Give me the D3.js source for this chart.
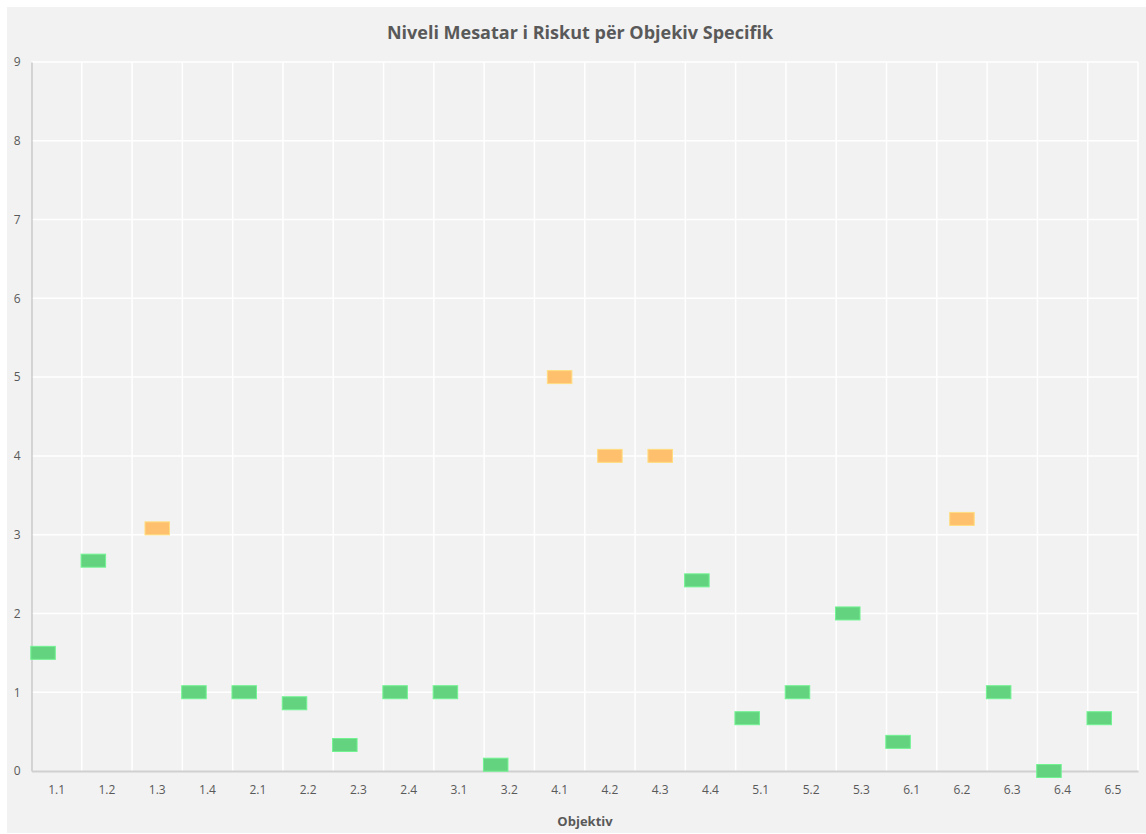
<!DOCTYPE html>
<html>
<head>
<meta charset="utf-8">
<script src="https://cdn.jsdelivr.net/npm/d3@7"></script>
<style>
  html, body { margin: 0; padding: 0; background: #ffffff; }
  svg { display: block; }
  text { font-family: "Open Sans", "Noto Sans", sans-serif; }
</style>
</head>
<body>
<svg id="chart" width="1146" height="834"></svg>
<script>
const categories = ["1.1","1.2","1.3","1.4","2.1","2.2","2.3","2.4","3.1","3.2","4.1","4.2","4.3","4.4","5.1","5.2","5.3","6.1","6.2","6.3","6.4","6.5"];
// risk level series (null = no value in that series)
const lowRisk =    [1.5, 2.67, null, 1, 1, 0.86, 0.33, 1, 1, 0.08, null, null, null, 2.42, 0.67, 1, 2, 0.37, null, 1, 0, 0.67];
const mediumRisk = [null, null, 3.08, null, null, null, null, null, null, null, 5, 4, 4, null, null, null, null, null, 3.2, null, null, null];
const highRisk =   [null, null, null, null, null, null, null, null, null, null, null, null, null, null, null, null, null, null, null, null, null, null];
const seriesNames = ["Low", "Medium", "High"];
const seriesColors = ["#63d37f", "#ffc06e", "#f4776b"];
const yTicks = [0,1,2,3,4,5,6,7,8,9];
const titleText = "Niveli Mesatar i Riskut për Objekiv Specifik";
const xTitle = "Objektiv";

const svg = d3.select("#chart");
const W = 1146, H = 834;
const m = {left: 31.5, right: 8, top: 62, bottom: 63};

svg.append("rect").attr("x", 7).attr("y", 7).attr("width", W - 7).attr("height", H - 8).attr("fill", "#f2f2f2");

const x = d3.scaleBand().domain(categories).range([m.left, W - m.right]).padding(0);
const xs = d3.scalePoint().domain(seriesNames).range([-13.6, 13.6]);
const y = d3.scaleLinear().domain([0, 9]).range([H - m.bottom, m.top]);

// horizontal gridlines
svg.append("g").selectAll("line").data(yTicks.slice(1)).join("line")
  .attr("x1", m.left).attr("x2", W - m.right)
  .attr("y1", d => y(d)).attr("y2", d => y(d))
  .attr("stroke", "#ffffff").attr("stroke-width", 1.5);

// vertical gridlines at band boundaries
svg.append("g").selectAll("line").data(categories.slice(1).concat(["__end"])).join("line")
  .attr("x1", (d, i) => x(categories[0]) + (i + 1) * x.bandwidth())
  .attr("x2", (d, i) => x(categories[0]) + (i + 1) * x.bandwidth())
  .attr("y1", m.top).attr("y2", y(0))
  .attr("stroke", "#ffffff").attr("stroke-width", 1.5);

// y axis
const yAxis = d3.axisLeft(y).tickValues(yTicks).tickSize(0).tickPadding(11).tickFormat(d3.format("d"));
const gy = svg.append("g").attr("transform", `translate(${m.left},0)`).call(yAxis);
gy.select(".domain").attr("stroke", "#bfbfbf").attr("stroke-width", 1.2);
gy.selectAll("text").attr("fill", "#595959").attr("font-size", 12);

// x axis
const xAxis = d3.axisBottom(x).tickSize(0).tickPadding(14);
const gx = svg.append("g").attr("transform", `translate(0,${y(0)})`).call(xAxis);
gx.select(".domain").attr("stroke", "#d0d0d0").attr("stroke-width", 2);
gx.selectAll("text").attr("fill", "#595959").attr("font-size", 12);

// markers
const allSeries = [lowRisk, mediumRisk, highRisk];
const mw = 24.5, mh = 13;
allSeries.forEach((vals, si) => {
  const pts = categories.map((c, i) => ({c, v: vals[i]})).filter(d => d.v !== null);
  svg.append("g").selectAll("rect").data(pts).join("rect")
    .attr("x", d => x(d.c) + x.bandwidth() / 2 + xs(seriesNames[si]) - mw / 2)
    .attr("y", d => y(d.v) - mh / 2)
    .attr("width", mw).attr("height", mh)
    .attr("fill", seriesColors[si])
    .attr("stroke", d3.color(seriesColors[si]).brighter(0.4))
    .attr("stroke-width", 1);
});

// title
svg.append("text").attr("x", 580).attr("y", 39).attr("text-anchor", "middle")
  .attr("font-size", 18).attr("font-weight", "bold").attr("fill", "#595959").text(titleText);

svg.append("text").attr("x", 585).attr("y", 826).attr("text-anchor", "middle")
  .attr("font-size", 13).attr("font-weight", "bold").attr("fill", "#595959").text(xTitle);
</script>
</body>
</html>
